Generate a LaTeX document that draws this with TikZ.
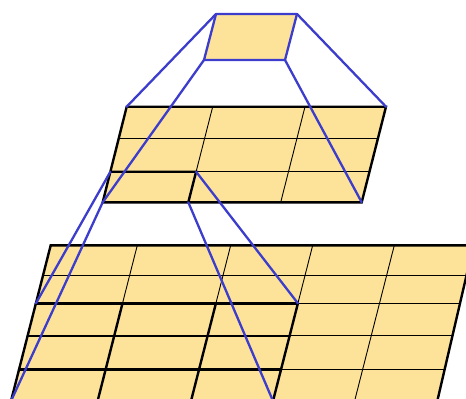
\documentclass[tikz,border=0pt]{standalone}
\usetikzlibrary{calc}
\definecolor{cellfill}{RGB}{253,227,153}
\definecolor{linkblue}{RGB}{60,60,205}
\tikzset{
  layerfill/.style={fill=cellfill, draw=none},
  thingrid/.style={draw=black, line width=0.9pt},
  thickgrid/.style={draw=black, line width=2.4pt, line cap=round, line join=miter},
  bluelink/.style={draw=linkblue, line width=2.3pt, line cap=round, line join=round},
}
\begin{document}
\begin{tikzpicture}[x=1pt,y=-1pt]
\useasboundingbox (0,0) rectangle (466,399);
\clip (0,0) rectangle (466,399);
% ---------- top patch ----------
\coordinate (T1) at (216,14);
\coordinate (T2) at (297,14);
\coordinate (T3) at (285,60);
\coordinate (T4) at (204,60);
% ---------- middle layer ----------
\coordinate (MA) at (126.7,106.7);
\coordinate (MB) at (386,106.7);
\coordinate (MC) at (361.7,202.3);
\coordinate (MD) at (102.7,202.3);
\coordinate (MV1t) at (212.7,106.7);
\coordinate (MV1b) at (188.3,202.3);
\coordinate (MV2t) at (305,106.7);
\coordinate (MV2b) at (280.7,202.3);
\coordinate (Mc1) at ($(MA)!0.68!(MD)$);
\coordinate (Mc2) at ($(MV1t)!0.68!(MV1b)$);
% ---------- bottom layer ----------
\coordinate (BA) at (50.7,245.3);
\coordinate (BB) at (473.5,245.3);
\coordinate (BC) at (437.3,401);
\coordinate (BD) at (11,401);
\coordinate (V1t) at (137.3,245.3);
\coordinate (V1b) at (97.6,401);
\coordinate (V2t) at (230.7,245.3);
\coordinate (V2b) at (191,401);
\coordinate (V3t) at (312.7,245.3);
\coordinate (V3b) at (273,401);
\coordinate (V4t) at (394.3,245.3);
\coordinate (V4b) at (354.6,401);
\coordinate (Bc1) at ($(BA)!0.3725!(BD)$);
\coordinate (Bc2) at ($(V3t)!0.3725!(V3b)$);

% ===== bottom layer drawing =====
\path[layerfill] (BA) -- (BB) -- (BC) -- (BD) -- cycle;
\foreach \t in {0.195,0.3725,0.5806,0.7964}
  \draw[thingrid] ($(BA)!\t!(BD)$) -- ($(BB)!\t!(BC)$);
\foreach \v in {V1,V2,V3,V4}
  \draw[thingrid] (\v t) -- (\v b);
% highlighted 3x3 block
\foreach \t in {0.3725,0.5806,0.7964,1}
  \draw[thickgrid] ($(BA)!\t!(BD)$) -- ($(V3t)!\t!(V3b)$);
\foreach \v in {V1,V2,V3}
  \draw[thickgrid] ($(\v t)!0.3725!(\v b)$) -- (\v b);
\draw[thickgrid] (BD) -- (BA) -- (BB) -- (BC);

% ===== middle layer drawing =====
\path[layerfill] (MA) -- (MB) -- (MC) -- (MD) -- cycle;
\foreach \t in {0.331,0.68}
  \draw[thingrid] ($(MA)!\t!(MD)$) -- ($(MB)!\t!(MC)$);
\draw[thingrid] (MV1t) -- (MV1b);
\draw[thingrid] (MV2t) -- (MV2b);
\draw[thickgrid] (Mc1) -- (Mc2) -- (MV1b);
\draw[thickgrid] (MA) -- (MB) -- (MC) -- (MD) -- cycle;

% ===== top patch =====
\path[layerfill] (T1) -- (T2) -- (T3) -- (T4) -- cycle;
\draw[bluelink] (T1) -- (T2) -- (T3) -- (T4) -- cycle;

% ===== blue connectors =====
\draw[bluelink] (T1) -- (MA);
\draw[bluelink] (T2) -- (MB);
\draw[bluelink] (T3) -- (MC);
\draw[bluelink] (T4) -- (MD);
\draw[bluelink] (Mc1) -- (Bc1);
\draw[bluelink] (Mc2) -- (Bc2);
\draw[bluelink] (MD) -- (BD);
\draw[bluelink] (MV1b) -- (V3b);
\end{tikzpicture}
\end{document}
